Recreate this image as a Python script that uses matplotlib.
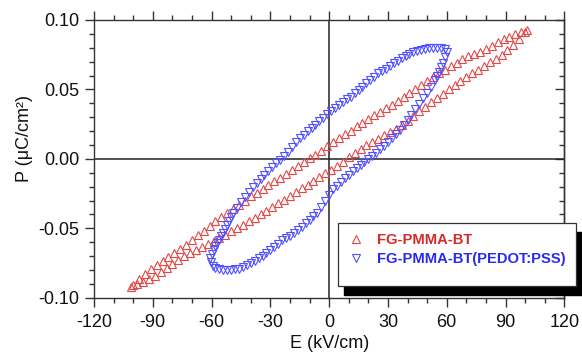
import matplotlib
matplotlib.use("Agg")
import matplotlib.pyplot as plt
from matplotlib.ticker import MultipleLocator
from matplotlib.patches import Rectangle
from matplotlib.lines import Line2D

plt.rcParams['font.family'] = ['Liberation Sans', 'DejaVu Sans']
plt.rcParams['axes.unicode_minus'] = False

# ---------------- data ----------------
# FG-PMMA-BT : upper branch (E decreasing) then lower branch (E increasing)
red_E_up = [101, 98, 95, 92, 89, 86, 83, 80, 77, 74, 71, 68, 65, 62, 59, 56, 53, 50, 47, 44,
            41, 38, 35, 32, 29, 26, 23, 20, 17, 14, 11, 8, 5, 2, -1, -4, -7, -10, -13, -16,
            -19, -22, -25, -28, -31, -34, -37, -40, -43, -46, -49, -52, -55, -58, -61, -64,
            -67, -70, -73, -76, -79, -82, -85, -88, -91, -94, -97, -100, -101]
red_P_up = [0.093, 0.0914, 0.0897, 0.0881, 0.0862, 0.0839, 0.0816, 0.0793, 0.077, 0.0755,
            0.0741, 0.0719, 0.0693, 0.0668, 0.0642, 0.0616, 0.059, 0.0561, 0.0531, 0.0502,
            0.0473, 0.0443, 0.0416, 0.039, 0.0365, 0.0339, 0.0314, 0.0288, 0.0261, 0.0233,
            0.0204, 0.0176, 0.0147, 0.0119, 0.009, 0.006, 0.0031, 0.0004, -0.0022, -0.005,
            -0.008, -0.011, -0.0136, -0.0162, -0.0189, -0.0215, -0.0244, -0.027, -0.030,
            -0.033, -0.036, -0.039, -0.042, -0.0451, -0.0485, -0.0518, -0.0552, -0.0585,
            -0.0619, -0.0649, -0.0677, -0.0705, -0.0734, -0.0762, -0.079, -0.0829, -0.0868,
            -0.0907, -0.092]
red_E_low = [-98, -95, -92, -89, -86, -83, -80, -77, -74, -71, -68, -65, -62, -59, -56, -53,
             -50, -47, -44, -41, -38, -35, -32, -29, -26, -23, -20, -17, -14, -11, -8, -5,
             -2, 1, 4, 7, 10, 13, 16, 19, 22, 25, 28, 31, 34, 37, 40, 43, 46, 49, 52, 55,
             58, 61, 64, 67, 70, 73, 76, 79, 82, 85, 88, 91, 94, 97, 100]
red_P_low = [-0.0902, -0.0884, -0.0866, -0.0841, -0.0813, -0.0785, -0.0756, -0.0728, -0.070,
             -0.0679, -0.0658, -0.0636, -0.0615, -0.0594, -0.0572, -0.0547, -0.0522, -0.0498,
             -0.0473, -0.0448, -0.0423, -0.0397, -0.0372, -0.0346, -0.0321, -0.0295, -0.0268,
             -0.024, -0.0213, -0.0186, -0.0158, -0.0131, -0.0105, -0.0079, -0.005, -0.002,
             0.001, 0.004, 0.007, 0.010, 0.0123, 0.0146, 0.0169, 0.0192, 0.0215, 0.0241,
             0.0275, 0.0308, 0.0342, 0.0375, 0.0409, 0.044, 0.047, 0.050, 0.053, 0.056, 0.059,
             0.0616, 0.0643, 0.0669, 0.0696, 0.0722, 0.0751, 0.0785, 0.0819, 0.0863, 0.0913]

# FG-PMMA-BT(PEDOT:PSS)
blue_E_up = [60, 59, 57, 55, 53, 51, 49, 47, 45, 43, 41, 39, 37, 35, 33, 31, 29, 27, 25, 23,
             21, 19, 17, 15, 13, 11, 9, 7, 5, 3, 1, -1, -3, -5, -7, -9, -11, -13, -15, -17,
             -19, -21, -23, -25, -27, -29, -31, -33, -35, -37, -39, -41, -43, -45, -47, -49,
             -50, -51, -52, -53, -54, -55, -56, -57, -58, -59, -60, -61]
blue_P_up = [0.0772, 0.079, 0.0798, 0.080, 0.0798, 0.0796, 0.0792, 0.0785, 0.0776, 0.0767,
             0.0757, 0.0742, 0.0725, 0.0706, 0.0687, 0.0667, 0.0648, 0.0632, 0.0616, 0.0593,
             0.0568, 0.0544, 0.0521, 0.0496, 0.0472, 0.0448, 0.0428, 0.0408, 0.0388, 0.0366,
             0.0346, 0.0322, 0.0297, 0.0272, 0.0247, 0.0222, 0.0198, 0.0174, 0.015, 0.0118,
             0.0085, 0.0052, 0.002, -0.0007, -0.0033, -0.006, -0.0087, -0.0115, -0.0145,
             -0.0175, -0.0205, -0.0237, -0.0275, -0.0313, -0.0351, -0.039, -0.0419, -0.0448,
             -0.0477, -0.0506, -0.0535, -0.0559, -0.0583, -0.0607, -0.0631, -0.0655, -0.0685,
             -0.0715]
blue_E_low = [-60.5, -59.5, -58, -56, -54, -52, -50, -48, -46, -44, -42, -40, -38, -36, -34,
              -32, -30, -28, -26, -24, -22, -20, -18, -16, -14, -12, -10, -8, -6, -4, -2, 0,
              2, 4, 6, 8, 10, 12, 14, 16, 18, 20, 22, 24, 26, 28, 30, 32, 34, 36, 38, 40, 42,
              44, 46, 48, 50, 52, 54, 55, 56, 57, 58, 59]
blue_P_low = [-0.0745, -0.077, -0.0785, -0.0795, -0.080, -0.080, -0.080, -0.0795, -0.079,
              -0.0782, -0.0767, -0.075, -0.0733, -0.0716, -0.0698, -0.068, -0.0657, -0.0634,
              -0.0611, -0.0588, -0.0571, -0.0553, -0.0535, -0.0516, -0.049, -0.0464, -0.0439,
              -0.0414, -0.039, -0.0347, -0.0303, -0.026, -0.022, -0.0193, -0.0166, -0.014,
              -0.0113, -0.0087, -0.0065, -0.0043, -0.002, 0.0002, 0.0024, 0.004, 0.0068,
              0.0096, 0.0124, 0.0152, 0.018, 0.0209, 0.0245, 0.0282, 0.0319, 0.0356, 0.0395,
              0.0436, 0.0476, 0.0518, 0.0568, 0.0598, 0.0628, 0.0658, 0.0688, 0.073]

labels = ['FG-PMMA-BT', 'FG-PMMA-BT(PEDOT:PSS)']
xticks = [-120, -90, -60, -30, 0, 30, 60, 90, 120]
yticks = [-0.10, -0.05, 0.00, 0.05, 0.10]

red_marker = '#e34848'
blue_marker = '#5050ff'
red_text = '#d42a2a'
blue_text = '#2a2aee'

# ---------------- figure ----------------
W, H = 582, 354
fig = plt.figure(figsize=(W / 100, H / 100), dpi=100)
ax = fig.add_axes([94 / W, 1 - 297.7 / H, (564.3 - 94) / W, (297.7 - 20) / H])

ms = 6
mew = 0.8
ax.plot(red_E_up + red_E_low, red_P_up + red_P_low, linestyle='none', marker='^',
        markersize=ms, markerfacecolor='none', markeredgecolor=red_marker,
        markeredgewidth=mew, zorder=3)
ax.plot(blue_E_up + blue_E_low, blue_P_up + blue_P_low, linestyle='none', marker='v',
        markersize=ms, markerfacecolor='none', markeredgecolor=blue_marker,
        markeredgewidth=mew, zorder=3)

ax.axhline(0, color='#222222', lw=1.1, zorder=2)
ax.axvline(0, color='#222222', lw=1.1, zorder=2)

ax.set_xlim(-120, 120)
ax.set_ylim(-0.10, 0.10)
ax.set_xticks(xticks)
ax.set_yticks(yticks)
ax.set_yticklabels([f'{v:.2f}' for v in yticks])
ax.xaxis.set_minor_locator(MultipleLocator(10))
ax.yaxis.set_minor_locator(MultipleLocator(0.01))

for s in ax.spines.values():
    s.set_linewidth(1.0)
    s.set_color('#333333')

ax.tick_params(which='both', direction='out', top=True, right=False, labelsize=13,
               color='#333333', width=1.0, labelcolor='#111111')
ax.tick_params(which='major', length=6.5)
ax.tick_params(which='minor', length=3.5)
ax.tick_params(axis='x', which='major', pad=5)
ax.tick_params(axis='y', which='major', pad=4)

sec = ax.secondary_yaxis('right')
sec.set_yticks(yticks)
sec.yaxis.set_minor_locator(MultipleLocator(0.01))
sec.tick_params(which='both', direction='in', labelright=False, color='#333333', width=1.0)
sec.tick_params(which='major', length=6.5)
sec.tick_params(which='minor', length=3.5)
sec.spines['right'].set_linewidth(1.0)
sec.spines['right'].set_color('#333333')

ax.set_xlabel('E (kV/cm)', fontsize=13, color='#111111')
ax.set_ylabel('P (μC/cm²)', fontsize=13, color='#111111')
ax.xaxis.set_label_coords(0.5, -(335 - 297.7) / 277.7)
ax.yaxis.set_label_coords((33 - 94) / 470.3, (297.7 - 138) / 277.7)

# ---------------- legend with shadow ----------------
lx0, lx1 = 338 / W, 576 / W
ly0, ly1 = 1 - 286 / H, 1 - 223 / H
shadow = Rectangle((lx0 + 6 / W, ly0 - 9 / H), lx1 - lx0, ly1 - ly0,
                   transform=fig.transFigure, facecolor='black', edgecolor='black', zorder=4)
box = Rectangle((lx0, ly0), lx1 - lx0, ly1 - ly0, transform=fig.transFigure,
                facecolor='white', edgecolor='#333333', linewidth=0.9, zorder=4.5)
fig.patches.append(shadow)
fig.patches.append(box)

handles = [Line2D([], [], linestyle='none', marker='^', markersize=ms, markerfacecolor='none',
                  markeredgecolor=red_marker, markeredgewidth=mew),
           Line2D([], [], linestyle='none', marker='v', markersize=ms, markerfacecolor='none',
                  markeredgecolor=blue_marker, markeredgewidth=mew)]
leg = fig.legend(handles, labels, loc='upper left',
                 bbox_to_anchor=(lx0, ly0, lx1 - lx0, ly1 - ly0),
                 frameon=False, prop={'weight': 'bold', 'size': 10.6},
                 handlelength=1.0, handletextpad=0.95, labelspacing=0.3,
                 borderaxespad=0, borderpad=0.7)
leg.set_zorder(5)
for t, c in zip(leg.get_texts(), [red_text, blue_text]):
    t.set_color(c)

fig.savefig('out.png', dpi=100)
